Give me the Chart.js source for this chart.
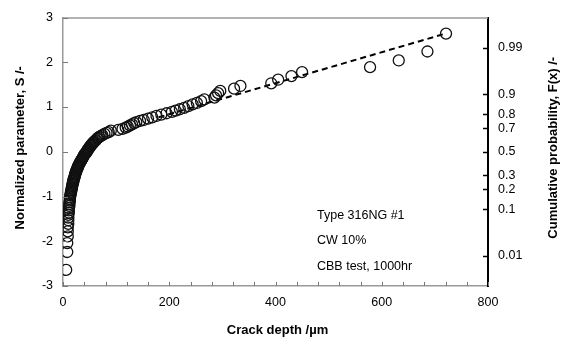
<!DOCTYPE html>
<html>
<head>
<meta charset="utf-8">
<script src="https://cdn.jsdelivr.net/npm/chart.js@4/dist/chart.umd.min.js"></script>
<style>
html,body{margin:0;padding:0;background:#fff;}
#wrap{width:568px;height:344px;}
</style>
</head>
<body>
<div id="wrap"><canvas id="c" width="568" height="344"></canvas></div>
<script>
// Crack depth (µm), ascending
const crackDepth = [
  6, 8, 8, 9, 9, 9, 10, 10, 10, 10,
  11, 11, 11, 12, 12, 12, 13, 13, 13, 14,
  14, 15, 15, 16, 16, 17, 17, 18, 18, 19,
  19, 20, 20, 21, 22, 22, 23, 23, 24, 25,
  25, 26, 27, 28, 28, 29, 30, 31, 32, 33,
  34, 35, 36, 37, 38, 39, 40, 41, 43, 44,
  45, 46, 47, 48, 50, 51, 52, 54, 55, 57,
  58, 60, 62, 64, 66, 68, 71, 74, 78, 82,
  86, 90, 104, 112, 118, 122, 126, 130, 134, 138,
  145, 152, 160, 168, 176, 185, 195, 205, 212, 220,
  228, 236, 244, 252, 260, 266, 285, 288, 292, 296,
  322, 334, 392, 405, 430, 450, 578, 632, 686, 721
];
// Normalized parameter S
const sParam = [
  -2.64, -2.24, -2.04, -1.89, -1.78, -1.69, -1.61, -1.53, -1.47, -1.41,
  -1.36, -1.31, -1.26, -1.21, -1.17, -1.13, -1.09, -1.06, -1.02, -0.98,
  -0.95, -0.92, -0.89, -0.86, -0.83, -0.80, -0.77, -0.74, -0.71, -0.69,
  -0.66, -0.64, -0.61, -0.59, -0.56, -0.54, -0.51, -0.49, -0.47, -0.44,
  -0.42, -0.40, -0.37, -0.35, -0.33, -0.31, -0.29, -0.26, -0.24, -0.22,
  -0.20, -0.18, -0.16, -0.14, -0.12, -0.09, -0.07, -0.05, -0.03, -0.01,
  0.01, 0.03, 0.05, 0.07, 0.09, 0.12, 0.14, 0.16, 0.18, 0.20,
  0.22, 0.24, 0.26, 0.29, 0.31, 0.33, 0.35, 0.37, 0.40, 0.42,
  0.44, 0.47, 0.49, 0.51, 0.54, 0.56, 0.59, 0.61, 0.64, 0.66,
  0.69, 0.71, 0.74, 0.77, 0.80, 0.83, 0.86, 0.89, 0.92, 0.95,
  0.98, 1.02, 1.06, 1.09, 1.13, 1.17, 1.21, 1.26, 1.31, 1.36,
  1.41, 1.47, 1.53, 1.61, 1.69, 1.78, 1.89, 2.04, 2.24, 2.64
];
// Fitted dashed line
const fitDepth = [180, 720];
const fitS = [0.77, 2.64];
// Axis ticks
const xTickStep = 40;
const xLabelStep = 200;
const sTicks = [-3, -2, -1, 0, 1, 2, 3];
const probTicks = [0.01, 0.1, 0.2, 0.3, 0.5, 0.7, 0.8, 0.9, 0.99];
const noteLines = ['Type 316NG #1', 'CW 10%', 'CBB test, 1000hr'];
const xTitle = 'Crack depth /\u00b5m';
const yTitle = 'Normalized parameter, S /-';
const y2Title = 'Cumulative probability, F(x) /-';

// inverse standard normal CDF (Acklam approximation) for the probability axis
function invNorm(p){
  const a=[-3.969683028665376e+01,2.209460984245205e+02,-2.759285104469687e+02,1.383577518672690e+02,-3.066479806614716e+01,2.506628277459239e+00];
  const b=[-5.447609879822406e+01,1.615858368580409e+02,-1.556989798598866e+02,6.680131188771972e+01,-1.328068155288572e+01];
  const c=[-7.784894002430293e-03,-3.223964580411365e-01,-2.400758277161838e+00,-2.549732539343734e+00,4.374664141464968e+00,2.938163982698783e+00];
  const d=[7.784695709041462e-03,3.224671290700398e-01,2.445134137142996e+00,3.754408661907416e+00];
  const pl=0.02425, ph=1-pl; let q,r;
  if(p<pl){q=Math.sqrt(-2*Math.log(p));return (((((c[0]*q+c[1])*q+c[2])*q+c[3])*q+c[4])*q+c[5])/((((d[0]*q+d[1])*q+d[2])*q+d[3])*q+1);}
  if(p<=ph){q=p-0.5;r=q*q;return (((((a[0]*r+a[1])*r+a[2])*r+a[3])*r+a[4])*r+a[5])*q/(((((b[0]*r+b[1])*r+b[2])*r+b[3])*r+b[4])*r+1);}
  q=Math.sqrt(-2*Math.log(1-p));return -(((((c[0]*q+c[1])*q+c[2])*q+c[3])*q+c[4])*q+c[5])/((((d[0]*q+d[1])*q+d[2])*q+d[3])*q+1);
}

const FONT = "'Liberation Sans', Arial, sans-serif";
Chart.defaults.font.family = FONT;
Chart.defaults.color = '#000';

const points = crackDepth.map((x,i)=>({x:x, y:sParam[i]}));
const fitLine = fitDepth.map((x,i)=>({x:x, y:fitS[i]}));

const decor = {
  id:'decor',
  afterDraw(chart){
    const ctx = chart.ctx, ca = chart.chartArea;
    const xs = chart.scales.x, yl = chart.scales.y, yr = chart.scales.y2;
    ctx.save();
    // top frame line
    ctx.strokeStyle = '#999'; ctx.lineWidth = 1.5;
    ctx.beginPath(); ctx.moveTo(ca.left, ca.top+0.5); ctx.lineTo(ca.right, ca.top+0.5); ctx.stroke();
    // inward ticks
    ctx.strokeStyle = '#777'; ctx.lineWidth = 1;
    xs.ticks.forEach(t=>{ const px = Math.round(xs.getPixelForValue(t.value))+0.5;
      ctx.beginPath(); ctx.moveTo(px, ca.bottom); ctx.lineTo(px, ca.bottom-4); ctx.stroke(); });
    yl.ticks.forEach(t=>{ const py = Math.round(yl.getPixelForValue(t.value))+0.5;
      ctx.beginPath(); ctx.moveTo(ca.left, py); ctx.lineTo(ca.left+5, py); ctx.stroke(); });
    ctx.strokeStyle = '#000'; ctx.lineWidth = 1.5;
    yr.ticks.forEach(t=>{ const py = Math.round(yr.getPixelForValue(t.value))+0.5;
      ctx.beginPath(); ctx.moveTo(ca.right, py); ctx.lineTo(ca.right-5, py); ctx.stroke(); });
    // annotation text
    ctx.fillStyle = '#000'; ctx.font = '12.5px ' + FONT; ctx.textBaseline = 'middle'; ctx.textAlign = 'left';
    noteLines.forEach((s,i)=>{ ctx.fillText(s, ca.left + 254, ca.top + 198 + i*25.5); });
    // axis titles
    ctx.font = 'bold 13px ' + FONT; ctx.textAlign = 'center';
    const midY = (ca.top + ca.bottom)/2;
    ctx.fillText(xTitle, (ca.left+ca.right)/2 + 2, 330);
    ctx.save(); ctx.translate(20, midY - 4); ctx.rotate(-Math.PI/2); ctx.fillText(yTitle, 0, 0); ctx.restore();
    ctx.save(); ctx.translate(553, midY - 4); ctx.rotate(-Math.PI/2); ctx.fillText(y2Title, 0, 0); ctx.restore();
    ctx.restore();
  }
};

new Chart(document.getElementById('c'), {
  type:'scatter',
  data:{
    datasets:[
      { label:'data', data:points, showLine:false, pointStyle:'circle', pointRadius:5.5,
        pointBorderWidth:1.3, pointBorderColor:'#111', pointBackgroundColor:'rgba(0,0,0,0)', yAxisID:'y' },
      { label:'fit', data:fitLine, showLine:true, pointRadius:0, borderColor:'#000', borderWidth:2,
        borderDash:[6,4], fill:false, yAxisID:'y' }
    ]
  },
  options:{
    responsive:false, animation:false, devicePixelRatio:1,
    layout:{ padding:{ top:14, left:0, right:0, bottom:0 } },
    plugins:{ legend:{display:false}, tooltip:{enabled:false} },
    scales:{
      x:{ type:'linear', min:0, max:800,
        grid:{ display:false, drawTicks:false },
        border:{ display:true, color:'#999', width:1.5 },
        ticks:{ stepSize:xTickStep, autoSkip:false, maxRotation:0, padding:9, font:{size:12.5},
          callback:v=> (v % xLabelStep === 0) ? String(v) : '' },
        afterFit:s=>{ s.height = 58; }
      },
      y:{ type:'linear', position:'left', min:-3, max:3,
        grid:{ display:false, drawTicks:false },
        border:{ display:true, color:'#999', width:1.5 },
        afterBuildTicks:s=>{ s.ticks = sTicks.map(v=>({value:v})); },
        ticks:{ padding:10, font:{size:12.5}, callback:v=>String(v) },
        afterFit:s=>{ s.width = 63; }
      },
      y2:{ type:'linear', position:'right', min:-3, max:3,
        grid:{ display:false, drawTicks:false },
        border:{ display:true, color:'#000', width:2 },
        afterBuildTicks:s=>{ s.ticks = probTicks.map(p=>({value:invNorm(p)})); },
        ticks:{ padding:10, font:{size:12.5}, autoSkip:false,
          callback:(v,i)=> String(probTicks[i]) },
        afterFit:s=>{ s.width = 80; }
      }
    }
  },
  plugins:[decor]
});
</script>
</body>
</html>
